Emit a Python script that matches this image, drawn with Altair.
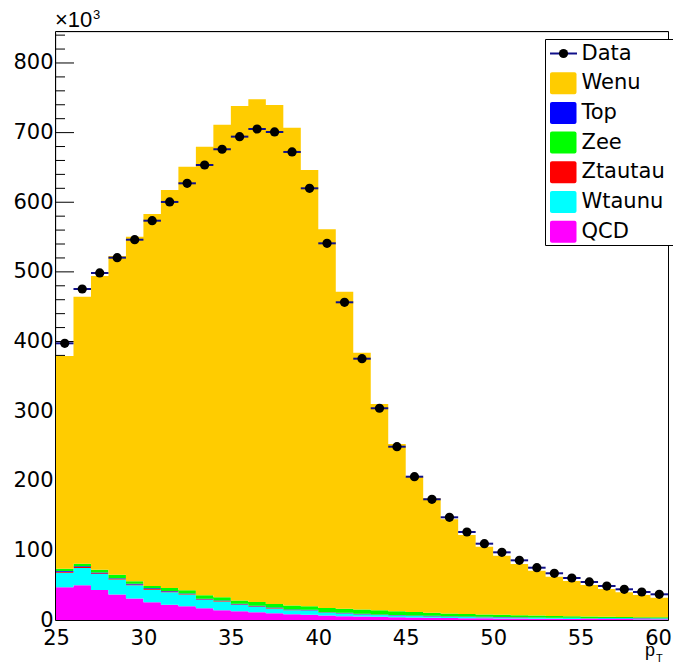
import altair as alt
import pandas as pd
import numpy as np

# ---------------- data (values in units of 10^3) ----------------
bin_low = list(range(25, 60))  # 1 GeV bins from 25 to 60
x_end = 60

qcd = [47, 50, 43, 36.5, 31, 25.5, 22, 19.7, 17, 14, 12.6, 11, 9.7, 8.3, 7.4, 6.4, 5.5, 5,
       4.5, 4, 3.6, 3.2, 2.9, 2.6, 2.4, 2.2, 2, 1.8, 1.7, 1.6, 1.5, 1.4, 1.3, 1.2, 1.1]
wtaunu = [21, 24.7, 23, 21.5, 19, 18.1, 18, 16.8, 12, 12.5, 9.4, 8, 6.8, 5.7, 6.2, 3.9, 3.8, 3,
          2.7, 2.5, 2.2, 2.0, 1.8, 1.7, 1.6, 1.5, 1.4, 1.4, 1.3, 1.2, 1.1, 1.1, 1.1, 1.1, 1.1]
ztautau = [1.4, 1.5, 1.3, 1.2, 1.1, 1.0, 0.9, 0.9, 0.8, 0.7, 0.7, 0.6, 0.6, 0.5, 0.5, 0.4, 0.4, 0.4,
           0.3, 0.3, 0.3, 0.3, 0.2, 0.2, 0.2, 0.2, 0.2, 0.2, 0.1, 0.1, 0.1, 0.1, 0.1, 0.1, 0.1]
top = [0.9, 1.0, 1.0, 0.9, 0.9, 0.9, 0.8, 0.8, 0.8, 0.8, 0.7, 0.7, 0.7, 0.7, 0.6, 0.6, 0.6, 0.6,
       0.5, 0.5, 0.5, 0.5, 0.4, 0.4, 0.4, 0.4, 0.4, 0.3, 0.3, 0.3, 0.3, 0.3, 0.3, 0.3, 0.3]
zee = [3.4, 3.6, 3.7, 4.9, 3.5, 3.5, 4.3, 4.4, 4.9, 4.6, 4.6, 5.7, 5.2, 5.5, 5.0, 6.1, 5.7, 6.0,
       6.0, 5.2, 4.9, 4.5, 4.2, 3.8, 3.4, 3.1, 2.8, 2.6, 2.4, 2.2, 2.0, 1.8, 1.6, 1.4, 1.2]
wenu = [305.5, 383.5, 422.1, 457.8, 495.0, 534.1, 571.6, 608.5, 644.3, 678.8, 710.2, 721.9,
        716.7, 686.4, 626.6, 543.8, 455.5, 368.9, 296.2, 240.3, 194.3, 164.3, 135.2, 113.4,
        97.3, 85.0, 73.6, 64.5, 56.4, 50.6, 45.3, 39.8, 35.4, 31.8, 28.2]
data_vals = [397.4, 475.4, 498.4, 520.4, 546.2, 573.5, 600.4, 627.2, 653.5, 676.1, 694.2, 705.2,
             700.9, 672.2, 620.0, 541.0, 456.3, 375.3, 304.1, 248.9, 205.8, 173.4, 147.5, 126.4,
             109.6, 97.2, 85.7, 75.1, 67.1, 60.3, 54.6, 48.8, 44.1, 40.2, 36.9]

# stacking order bottom -> top
stack_names = ["QCD", "Wtaunu", "Ztautau", "Top", "Zee", "Wenu"]
stack_series = [qcd, wtaunu, ztautau, top, zee, wenu]
stack_colors = ["#ff00ff", "#00ffff", "#ff0000", "#0000ff", "#00ff00", "#ffcc00"]

legend_names = ["Wenu", "Top", "Zee", "Ztautau", "Wtaunu", "QCD"]
legend_colors = ["#ffcc00", "#0000ff", "#00ff00", "#ff0000", "#00ffff", "#ff00ff"]

x_ticks = [25, 30, 35, 40, 45, 50, 55, 60]
y_major = [0, 100, 200, 300, 400, 500, 600, 700, 800]
y_minor = [v for v in range(0, 841, 20) if v % 100 != 0]

# ---------------- tables ----------------
rows = []
base = np.zeros(len(bin_low))
for k, (name, ser) in enumerate(zip(stack_names, stack_series)):
    s = np.array(ser, dtype=float)
    xs = bin_low + [x_end]
    lo_vals = list(base) + [base[-1]]
    hi_vals = list(base + s) + [(base + s)[-1]]
    for xv, a, b in zip(xs, lo_vals, hi_vals):
        rows.append({"x": xv, "y0": a, "y1": b, "comp": name, "order": k})
    base = base + s
hist_df = pd.DataFrame(rows)

data_df = pd.DataFrame({
    "lo": bin_low,
    "hi": [b + 1 for b in bin_low],
    "c": [b + 0.5 for b in bin_low],
    "v": data_vals,
})

W, H = 612, 588
YMAX = 844.5
FONT = "DejaVu Sans"
FONT2 = "Liberation Sans"

xscale = alt.Scale(domain=[25, 60], nice=False, zero=False)
yscale = alt.Scale(domain=[0, YMAX], nice=False, zero=True)

xaxis = alt.Axis(values=x_ticks, ticks=False, domain=False, grid=False, labelFontSize=21,
                 labelFont=FONT, labelColor="black", labelPadding=7, labelFlush=False,
                 labelOverlap=False, title=None, format="d",
                 labelOffset=alt.condition("datum.value == 60", alt.value(-10), alt.value(0)))
yaxis = alt.Axis(values=y_major, ticks=False, domain=False, grid=False, labelFontSize=21,
                 labelFont=FONT, labelColor="black", labelPadding=3, labelOverlap=False,
                 labelFlush=False, title=None, format="d")

# ticks (inward, ROOT style), drawn beneath the histogram
major_ticks = alt.Chart(pd.DataFrame({"t": y_major})).mark_rule(color="black", strokeWidth=1).encode(
    y=alt.Y("t:Q", scale=yscale, axis=yaxis), x=alt.value(0), x2=alt.value(18))
minor_ticks = alt.Chart(pd.DataFrame({"t": y_minor})).mark_rule(color="black", strokeWidth=1).encode(
    y=alt.Y("t:Q", scale=yscale), x=alt.value(0), x2=alt.value(9))

hist = alt.Chart(hist_df).mark_area(interpolate="step-after", opacity=1).encode(
    x=alt.X("x:Q", scale=xscale, axis=xaxis),
    y=alt.Y("y1:Q", scale=yscale, stack=None),
    y2="y0:Q",
    color=alt.Color("comp:N", scale=alt.Scale(domain=stack_names, range=stack_colors), legend=None),
    order=alt.Order("order:Q"),
)

err = alt.Chart(data_df).mark_rule(color="#10108a", strokeWidth=2).encode(
    x=alt.X("lo:Q", scale=xscale), x2="hi:Q", y=alt.Y("v:Q", scale=yscale))
pts = alt.Chart(data_df).mark_point(filled=True, shape="circle", size=85, color="black", opacity=1).encode(
    x=alt.X("c:Q", scale=xscale), y=alt.Y("v:Q", scale=yscale))

one = pd.DataFrame({"a": [0]})


def txt(s, x, y, size, font=FONT, align="left", baseline="middle"):
    return alt.Chart(one).mark_text(text=s, font=font, fontSize=size, align=align,
                                    baseline=baseline, color="black").encode(
        x=alt.value(x), y=alt.value(y))


frame = alt.Chart(one).mark_rect(fillOpacity=0, stroke="black", strokeWidth=1).encode(
    x=alt.value(-0.5), x2=alt.value(W + 0.5), y=alt.value(-0.5), y2=alt.value(H + 0.5))

annots = [
    txt("\u00d710", -1, -12, 22, font=FONT2),
    txt("3", 37, -17, 13, font=FONT2),
    txt("p", 589, 624, 18, font=FONT2, baseline="alphabetic"),
    txt("T", 600, 630, 11, font=FONT2, baseline="alphabetic"),
]

# legend (drawn manually, ROOT TLegend style)
leg_layers = []
leg_layers.append(alt.Chart(one).mark_rect(fill="white", stroke="black", strokeWidth=1).encode(
    x=alt.value(489.5), x2=alt.value(660), y=alt.value(7.5), y2=alt.value(213.5)))
y0 = 21.5
step = 29.7
leg_layers.append(alt.Chart(one).mark_rule(color="#10108a", strokeWidth=2).encode(
    x=alt.value(494), x2=alt.value(521), y=alt.value(y0)))
leg_layers.append(alt.Chart(one).mark_point(filled=True, shape="circle", size=85, color="black", opacity=1).encode(
    x=alt.value(507.5), y=alt.value(y0)))
leg_layers.append(txt("Data", 525.5, y0, 21))
for i, (nm, col) in enumerate(zip(legend_names, legend_colors)):
    yc = y0 + step * (i + 1)
    leg_layers.append(alt.Chart(one).mark_rect(fill=col, cornerRadius=2).encode(
        x=alt.value(494), x2=alt.value(520.5), y=alt.value(yc - 11), y2=alt.value(yc + 11)))
    leg_layers.append(txt(nm, 525.5, yc, 21))

chart = alt.layer(major_ticks, minor_ticks, hist, err, pts, frame, *annots, *leg_layers).properties(
    width=W, height=H,
    autosize=alt.AutoSizeParams(type="none"),
    padding={"left": 48, "top": 24, "right": 5, "bottom": 43},
).configure_view(strokeWidth=0).configure(background="white")

chart.save("out.html", embed_options={"renderer": "svg", "actions": False})
